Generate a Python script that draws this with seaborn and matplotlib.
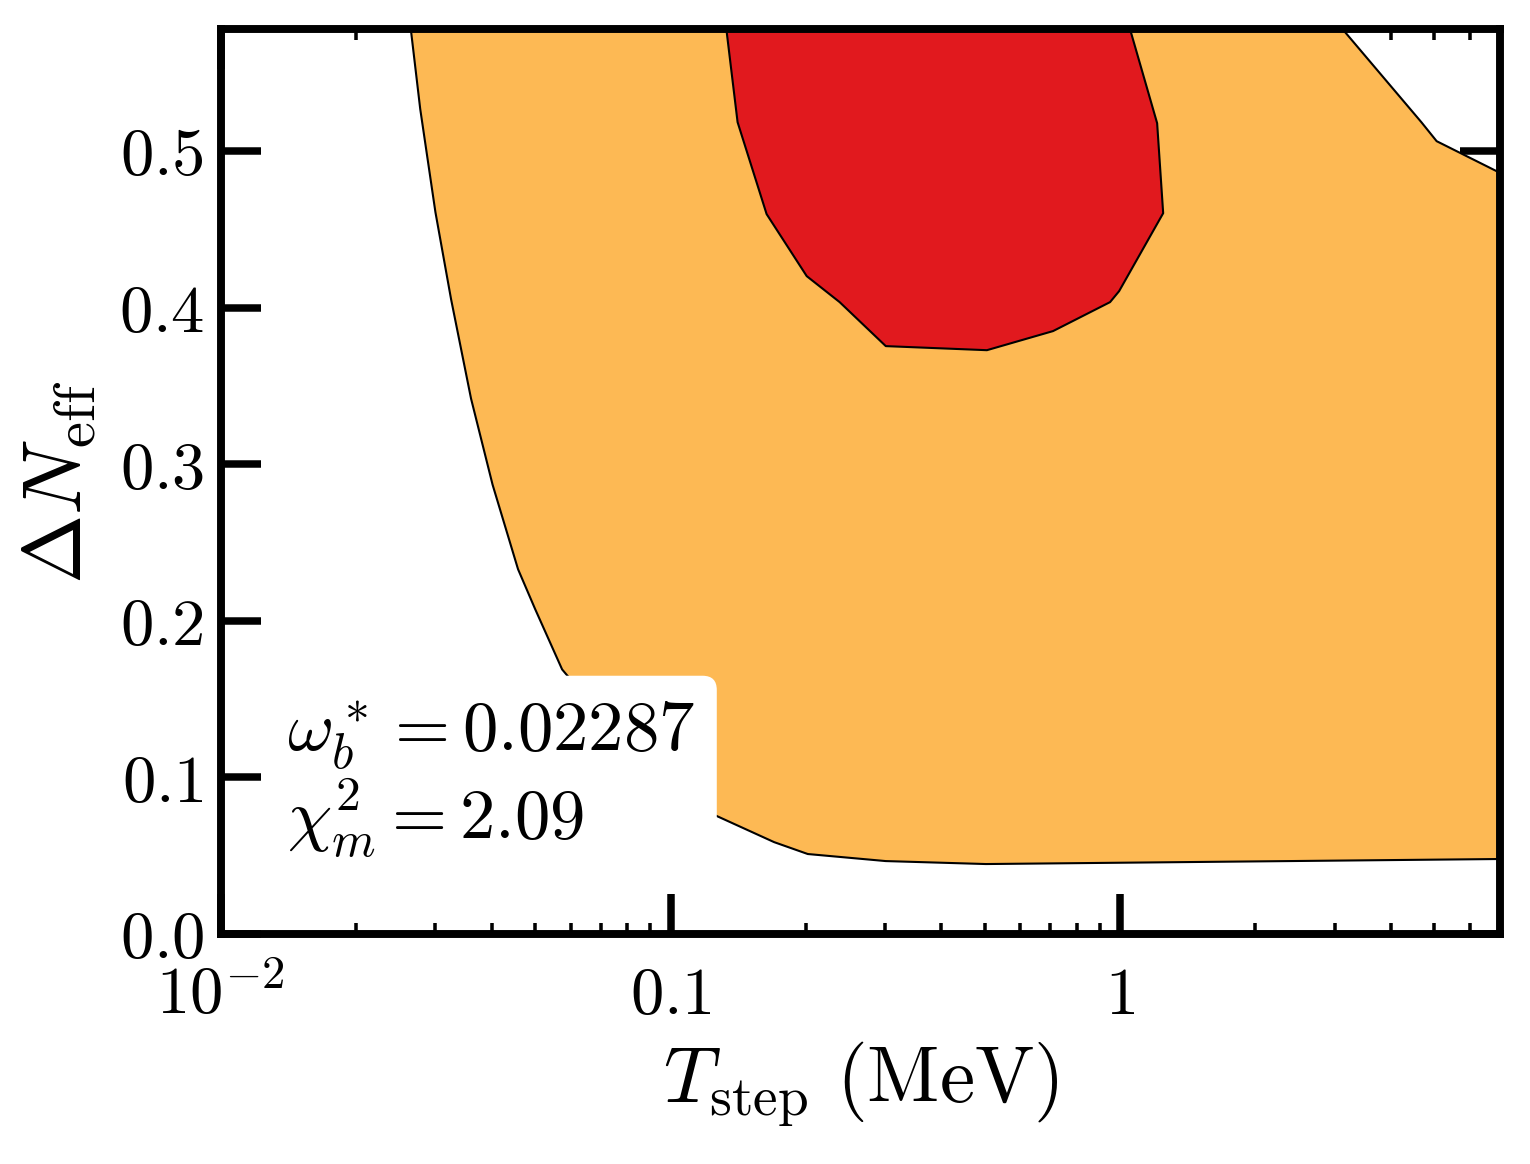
import numpy as np
import matplotlib
matplotlib.use("Agg")
import matplotlib.pyplot as plt
from matplotlib.ticker import FixedLocator, LogLocator, FuncFormatter, NullFormatter
import seaborn as sns

# 2-sigma (orange) and 1-sigma (red) regions
orange_T = [0.0259, 0.02775, 0.0300, 0.0325, 0.0360, 0.0402, 0.0458, 0.0500, 0.0574,
            0.080, 0.121, 0.170, 0.202, 0.301, 0.503, 7.5, 7.5, 6.95, 5.06, 4.68, 2.69]
orange_dN = [0.60, 0.527, 0.461, 0.4055, 0.342, 0.287, 0.233, 0.2075, 0.169,
             0.120, 0.078, 0.0587, 0.0511, 0.0466, 0.0447, 0.048, 0.483, 0.4866, 0.5064, 0.5185, 0.60]

red_T = [0.1303, 0.141, 0.1636, 0.2009, 0.2378, 0.3012, 0.5056, 0.7094, 0.950, 0.995,
         1.247, 1.209, 1.0]
red_dN = [0.60, 0.5185, 0.4598, 0.4202, 0.4036, 0.3755, 0.3729, 0.3851, 0.4036, 0.4106,
          0.4604, 0.5179, 0.60]

xticks = [0.01, 0.1, 1]
xticklabels = [r"$10^{-2}$", r"$0.1$", r"$1$"]
yticks = [0.0, 0.1, 0.2, 0.3, 0.4, 0.5]

sns.set_style("ticks")
plt.rcParams["mathtext.fontset"] = "cm"
plt.rcParams["font.family"] = ["serif"]
plt.rcParams["font.serif"] = ["cmr10", "DejaVu Serif"]
for key in ["text.color", "axes.edgecolor", "axes.labelcolor", "xtick.color", "ytick.color"]:
    plt.rcParams[key] = "black"

fig = plt.figure(figsize=(5.1, 3.8833), dpi=300)
ax = fig.add_axes([0.1444, 0.1974, 0.9804 - 0.1444, 0.9742 - 0.1974])

# filled regions
ax.fill(orange_T, orange_dN, color="#fdb954", lw=0, zorder=1)
ax.fill(red_T, red_dN, color="#e1191e", lw=0, zorder=2)

# contour edges
sns.lineplot(x=orange_T + orange_T[:1], y=orange_dN + orange_dN[:1], sort=False,
             estimator=None, color="k", lw=0.5, ax=ax, zorder=3)
sns.lineplot(x=red_T + red_T[:1], y=red_dN + red_dN[:1], sort=False,
             estimator=None, color="k", lw=0.5, ax=ax, zorder=3)

ax.set_xscale("log")
ax.set_xlim(0.01, 7.0)
ax.set_ylim(0, 0.578)

ax.xaxis.set_major_locator(FixedLocator(xticks))
ax.set_xticklabels(xticklabels)
ax.xaxis.set_minor_locator(LogLocator(base=10, subs=np.arange(2, 10), numticks=20))
ax.xaxis.set_minor_formatter(NullFormatter())
ax.yaxis.set_major_locator(FixedLocator(yticks))
ax.yaxis.set_major_formatter(FuncFormatter(lambda v, p: r"$%.1f$" % v))

ax.tick_params(axis="both", which="major", direction="in", length=9.6, width=1.8,
               top=True, right=True, labelsize=16)
ax.tick_params(axis="x", which="minor", direction="in", length=2.6, width=0.85,
               top=True, bottom=True)
ax.tick_params(axis="y", which="minor", left=False, right=False)
ax.tick_params(axis="y", which="major", pad=4)
ax.tick_params(axis="x", which="major", pad=19)
for lab in ax.get_xticklabels():
    lab.set_verticalalignment("baseline")

for s in ax.spines.values():
    s.set_linewidth(1.9)
    s.set_zorder(5)

ax.set_xlabel(r"$T_{\rm step}\ (\mathrm{MeV})$", fontsize=19, labelpad=3)
ax.set_ylabel(r"$\Delta N_{\rm eff}$", fontsize=20, labelpad=5)

ax.text(0.052, 0.083, "$\\omega_b^* = 0.02287$\n$\\chi^2_m = 2.09$", transform=ax.transAxes,
        fontsize=17, ha="left", va="bottom", linespacing=1.08, zorder=6,
        bbox=dict(boxstyle="round,pad=0.3,rounding_size=0.2", fc="white", ec="none"))

fig.savefig("out.png", dpi=300)
